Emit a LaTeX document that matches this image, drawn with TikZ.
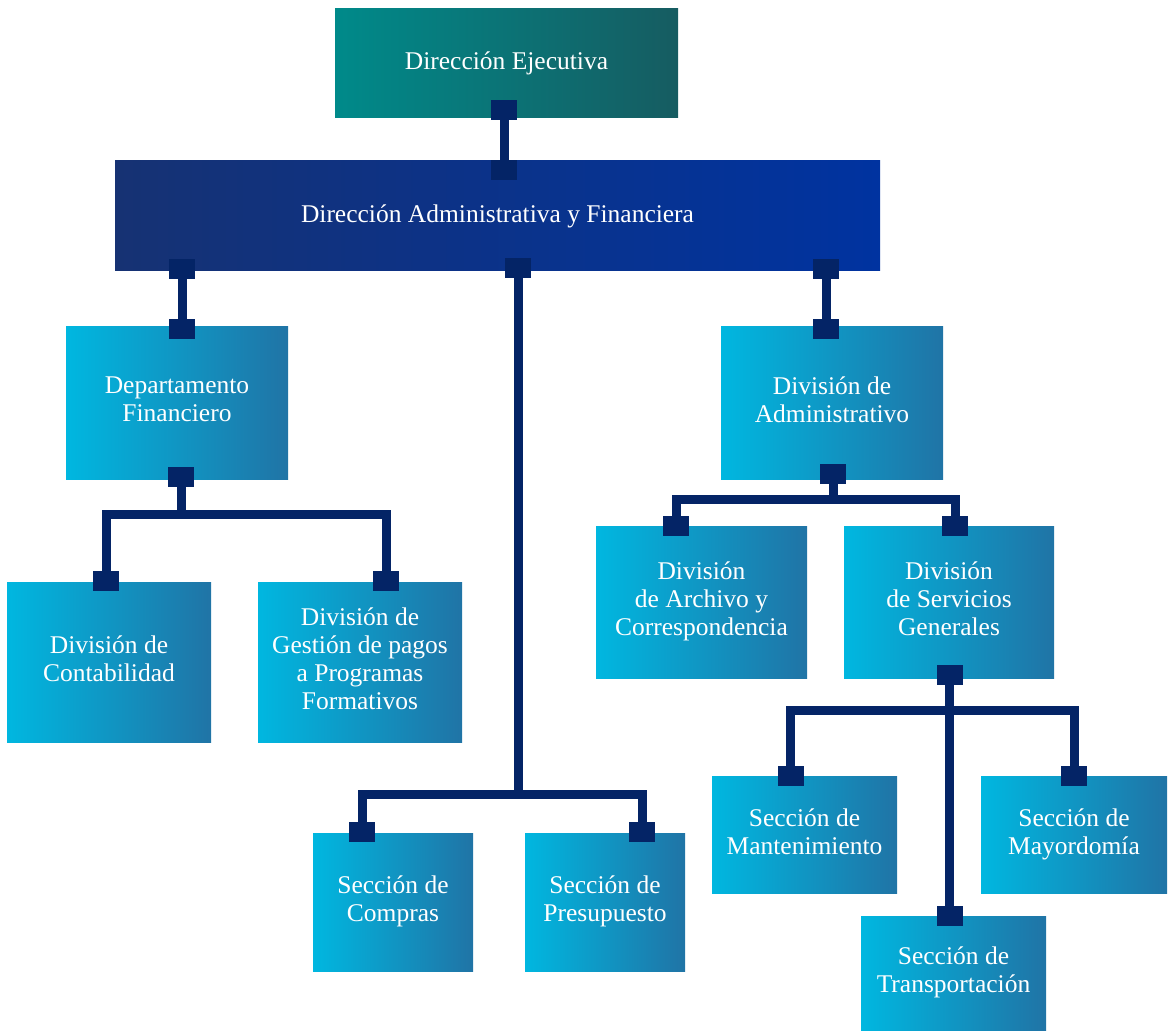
\documentclass[tikz,border=0pt]{standalone}
\usepackage{fontspec}
\setmainfont{Liberation Serif}
\definecolor{navy}{RGB}{4,36,102}
\definecolor{cyanL}{RGB}{0,183,224}
\definecolor{cyanR}{RGB}{32,116,166}
\definecolor{tealL}{RGB}{0,138,138}
\definecolor{tealR}{RGB}{22,92,97}
\definecolor{blueL}{RGB}{22,50,115}
\definecolor{blueR}{RGB}{0,51,160}
\newcommand{\boxstrut}{\rule[-6pt]{0pt}{38pt}}
\newcommand{\headstrut}{\rule[-7pt]{0pt}{28pt}}
\tikzset{
  box/.style={rectangle, inner sep=0pt, text=white, align=center,
    font=\fontsize{25.5}{28}\selectfont, left color=cyanL, right color=cyanR,
    execute at begin node=\boxstrut, execute at end node=\boxstrut},
  topbox/.style={rectangle, inner sep=0pt, text=white, align=center,
    font=\fontsize{25.5}{28}\selectfont, left color=tealL, right color=tealR,
    execute at begin node=\headstrut, execute at end node=\headstrut},
  secbox/.style={topbox, left color=blueL, right color=blueR},
  sq/.style={rectangle, fill=navy, inner sep=0pt, minimum width=26pt, minimum height=20pt},
  conn/.style={draw=navy, line width=9pt, line join=miter},
}
\begin{document}
\begin{tikzpicture}[x=1pt,y=-1pt]
\useasboundingbox (0,0) rectangle (1168,1031);
% boxes
\node[topbox, minimum width=343pt, minimum height=109pt] (de) at (506.5,62.5) {Dirección Ejecutiva};
\node[secbox, minimum width=765pt, minimum height=110pt] (daf) at (497.5,215) {Dirección Administrativa y Financiera};
\node[box, minimum width=222pt, minimum height=153pt] (df) at (177,402.5) {Departamento\\Financiero};
\node[box, minimum width=222pt, minimum height=153pt] (dad) at (832,402.5) {División de\\Administrativo};
\node[box, minimum width=204pt, minimum height=160pt] (dc) at (109,662) {División de\\Contabilidad};
\node[box, minimum width=204pt, minimum height=160pt] (dg) at (360,662) {División de\\Gestión de pagos\\a Programas\\Formativos};
\node[box, minimum width=211pt, minimum height=152pt] (dac) at (701.5,602) {División\\de Archivo y\\Correspondencia};
\node[box, minimum width=210pt, minimum height=152pt] (dsg) at (949,602) {División\\de Servicios\\Generales};
\node[box, minimum width=185pt, minimum height=117pt] (sm) at (804.5,834.5) {Sección de\\Mantenimiento};
\node[box, minimum width=186pt, minimum height=117pt] (smy) at (1074,834.5) {Sección de\\Mayordomía};
\node[box, minimum width=185pt, minimum height=114pt] (st) at (953.5,973) {Sección de\\Transportación};
\node[box, minimum width=160pt, minimum height=138pt] (sc) at (393,902) {Sección de\\Compras};
\node[box, minimum width=160pt, minimum height=138pt] (sp) at (605,902) {Sección de\\Presupuesto};
% connector squares
\node[sq] (s1) at (504,110) {};
\node[sq] (s2) at (504,170) {};
\node[sq] (s3) at (182,269) {};
\node[sq] (s4) at (518,268) {};
\node[sq] (s5) at (826,269) {};
\node[sq] (s6) at (182,329) {};
\node[sq] (s7) at (826,329) {};
\node[sq] (s8) at (181,477) {};
\node[sq] (s9) at (833,474) {};
\node[sq] (s10) at (106,581) {};
\node[sq] (s11) at (386,581) {};
\node[sq] (s12) at (676,526) {};
\node[sq] (s13) at (955,526) {};
\node[sq] (s14) at (949.5,675) {};
\node[sq] (s15) at (790.5,776) {};
\node[sq] (s16) at (1074,776) {};
\node[sq] (s17) at (949.5,916) {};
\node[sq] (s18) at (362,832) {};
\node[sq] (s19) at (642,832) {};
% junction coordinates
\coordinate (j1) at (181,514.5);
\coordinate (j2) at (833,499.5);
\coordinate (j3) at (518,794.5);
\coordinate (j4) at (949.5,710.5);
% connectors
\draw[conn] (s1) -- (s2);
\draw[conn] (s3) -- (s6);
\draw[conn] (s5) -- (s7);
\draw[conn] (s8) -- (j1);
\draw[conn] (s10) |- (j1) -| (s11);
\draw[conn] (s9) -- (j2);
\draw[conn] (s12) |- (j2) -| (s13);
\draw[conn] (s4) -- (j3);
\draw[conn] (s18) |- (j3) -| (s19);
\draw[conn] (s14) -- (s17);
\draw[conn] (s15) |- (j4) -| (s16);
\end{tikzpicture}
\end{document}
